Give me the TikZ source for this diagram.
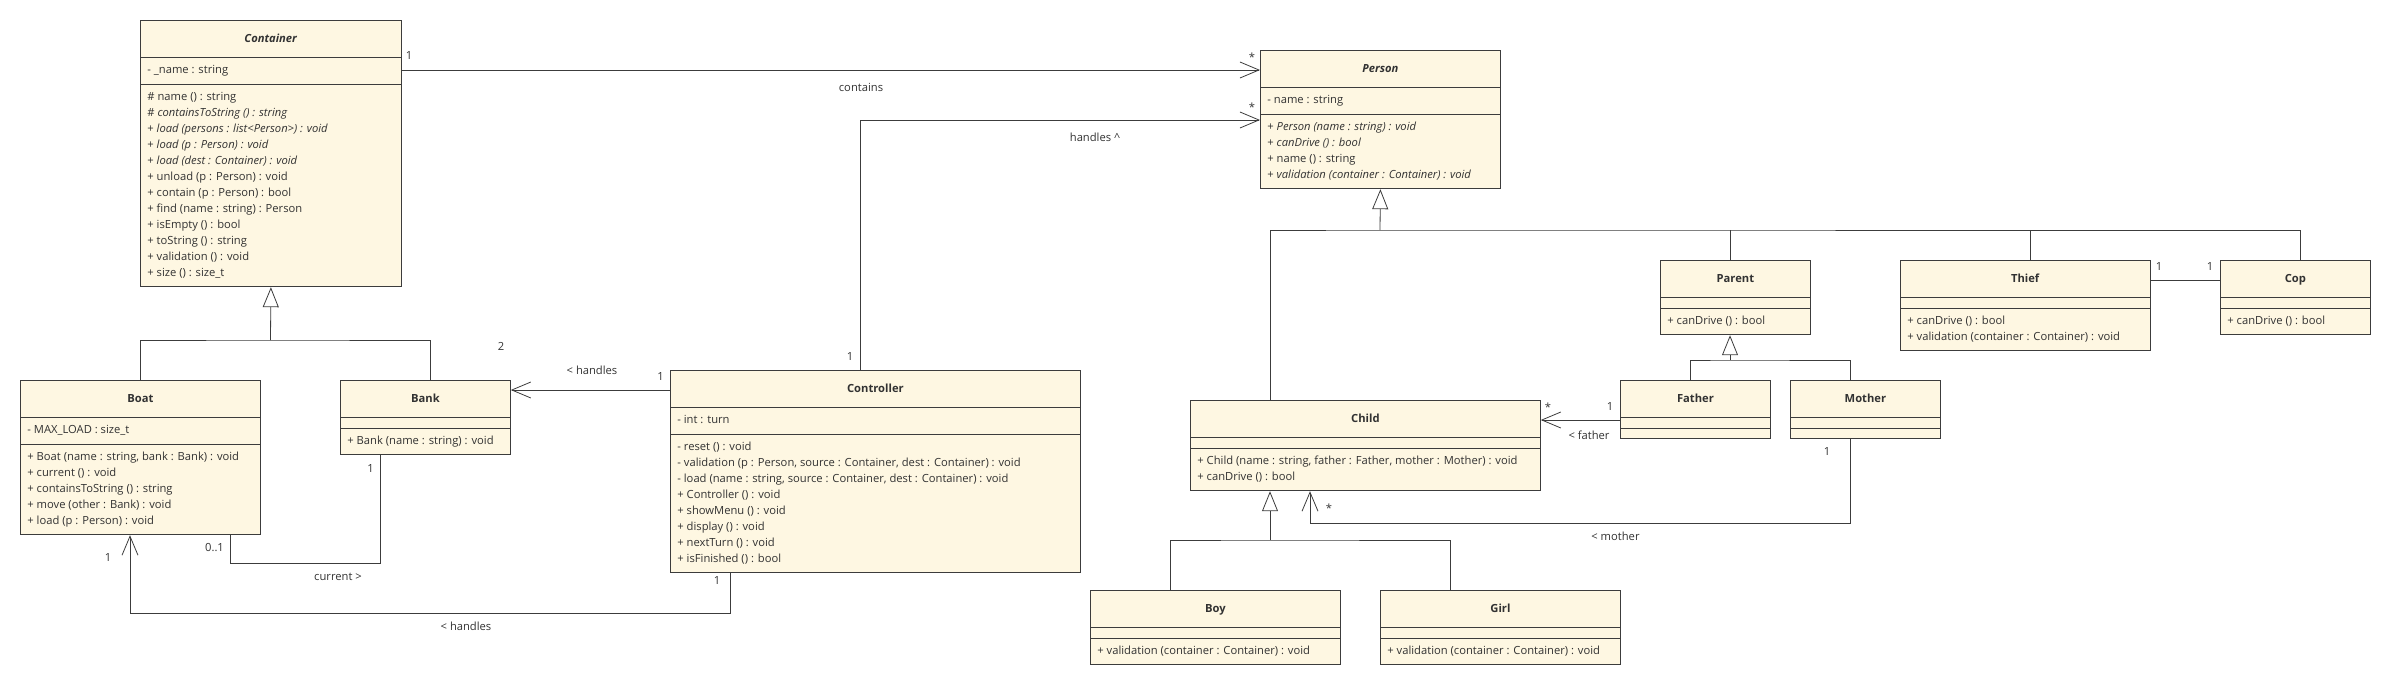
\documentclass[tikz,border=0pt]{standalone}
\usepackage{fontspec}
\setmainfont{Open Sans}
\usetikzlibrary{shapes.multipart, arrows.meta, positioning}
\definecolor{classfill}{RGB}{254, 247, 226}
\definecolor{linegray}{RGB}{60, 60, 60}
\definecolor{textgray}{RGB}{50, 50, 50}

\newcommand{\ctitle}[1]{\rule[-9pt]{0pt}{26pt}\textbf{#1}}
\newcommand{\members}[1]{\begin{tabular}{@{}l@{}}#1\end{tabular}}
\newcommand{\nomembers}{\kern0.5pt}

\tikzset{
  umlclass/.style={rectangle split, rectangle split parts=3, draw=linegray, fill=classfill,
    line width=0.8pt, inner xsep=7pt, inner ysep=5pt, anchor=north west,
    rectangle split part align={center, left, left},
    font=\fontsize{11.2}{16}\selectfont, text=textgray},
  assoc/.style={draw=linegray, line width=0.8pt},
  navig/.style={assoc, -{Straight Barb[length=19pt, width=16pt]}},
  inherit/.style={assoc, -{Triangle[open, length=20pt, width=16pt, fill=white]}},
  mult/.style={font=\fontsize{11.2}{16}\selectfont, text=textgray, inner sep=0pt},
}

\begin{document}
\begin{tikzpicture}[x=1pt, y=-1pt]
  \useasboundingbox (0,0) rectangle (2390,682);

  % Containers
  \node[umlclass, minimum width=261] (container) at (140,20) {\ctitle{\textit{Container}}%
    \nodepart{two}\members{- \_name : string}%
    \nodepart{three}\members{\# name () : string\\
    \# \textit{containsToString () : string}\\
    + \textit{load (persons : list<Person>) : void}\\
    + \textit{load (p : Person) : void}\\
    + \textit{load (dest : Container) : void}\\
    + unload (p : Person) : void\\
    + contain (p : Person) : bool\\
    + find (name : string) : Person\\
    + isEmpty () : bool\\
    + toString () : string\\
    + validation () : void\\
    + size () : size\_t}};

  \node[umlclass, minimum width=240] (boat) at (20,380) {\ctitle{Boat}%
    \nodepart{two}\members{- MAX\_LOAD : size\_t}%
    \nodepart{three}\members{+ Boat (name : string, bank : Bank) : void\\
    + current () : void\\
    + containsToString () : string\\
    + move (other : Bank) : void\\
    + load (p : Person) : void}};

  \node[umlclass, minimum width=170] (bank) at (340,380) {\ctitle{Bank}%
    \nodepart{two}\nomembers
    \nodepart{three}\members{+ Bank (name : string) : void}};

  \node[umlclass, minimum width=410] (controller) at (670,370) {\ctitle{Controller}%
    \nodepart{two}\members{- int : turn}%
    \nodepart{three}\members{- reset () : void\\
    - validation (p : Person, source : Container, dest : Container) : void\\
    - load (name : string, source : Container, dest : Container) : void\\
    + Controller () : void\\
    + showMenu () : void\\
    + display () : void\\
    + nextTurn () : void\\
    + isFinished () : bool}};

  % Persons
  \node[umlclass, minimum width=240] (person) at (1260,50) {\ctitle{\textit{Person}}%
    \nodepart{two}\members{- name : string}%
    \nodepart{three}\members{+ \textit{Person (name : string) : void}\\
    + \textit{canDrive () : bool}\\
    + name () : string\\
    + \textit{validation (container : Container) : void}}};

  \node[umlclass, minimum width=350] (child) at (1190,400) {\ctitle{Child}%
    \nodepart{two}\nomembers
    \nodepart{three}\members{+ Child (name : string, father : Father, mother : Mother) : void\\
    + canDrive () : bool}};

  \node[umlclass, minimum width=150] (parent) at (1660,260) {\ctitle{Parent}%
    \nodepart{two}\nomembers
    \nodepart{three}\members{+ canDrive () : bool}};

  \node[umlclass, minimum width=250] (thief) at (1900,260) {\ctitle{Thief}%
    \nodepart{two}\nomembers
    \nodepart{three}\members{+ canDrive () : bool\\
    + validation (container : Container) : void}};

  \node[umlclass, minimum width=150] (cop) at (2220,260) {\ctitle{Cop}%
    \nodepart{two}\nomembers
    \nodepart{three}\members{+ canDrive () : bool}};

  \node[umlclass, minimum width=150] (father) at (1620,380) {\ctitle{Father}%
    \nodepart{two}\nomembers
    \nodepart{three}\nomembers};

  \node[umlclass, minimum width=150] (mother) at (1790,380) {\ctitle{Mother}%
    \nodepart{two}\nomembers
    \nodepart{three}\nomembers};

  \node[umlclass, minimum width=250] (boy) at (1090,590) {\ctitle{Boy}%
    \nodepart{two}\nomembers
    \nodepart{three}\members{+ validation (container : Container) : void}};

  \node[umlclass, minimum width=240] (girl) at (1380,590) {\ctitle{Girl}%
    \nodepart{two}\nomembers
    \nodepart{three}\members{+ validation (container : Container) : void}};

  % Generalisations
  \coordinate (cbus) at (270.5,340);
  \draw[assoc] (boat.north) |- (cbus) -| ([xshift=90]bank.north west);
  \draw[inherit] (cbus) -- (container.south);

  \coordinate (pbus) at (1380,230);
  \draw[assoc] ([xshift=80]child.north west) |- (pbus) -| ([xshift=80]cop.north west);
  \draw[assoc] ([xshift=70]parent.north west) -- ++(0,-30);
  \draw[assoc] ([xshift=130]thief.north west) -- ++(0,-30);
  \draw[inherit] (pbus) -- (person.south);

  \coordinate (fbus) at (1730,360);
  \draw[assoc] ([xshift=70]father.north west) |- (fbus) -| ([xshift=60]mother.north west);
  \draw[inherit] (fbus) -- ([xshift=70]parent.south west);

  \coordinate (kidbus) at (1270,540);
  \draw[assoc] ([xshift=80]boy.north west) |- (kidbus) -| ([xshift=70]girl.north west);
  \draw[inherit] (kidbus) -- ([xshift=80]child.south west);

  % Associations
  \draw[navig] ([yshift=-50]container.north east) -- ([yshift=-20]person.north west);
  \node[mult] at (409,56) {1};
  \node[mult] at (1252,57) {*};
  \node[mult] at (861,87) {contains};

  \draw[navig] ([xshift=190]controller.north west) |- ([yshift=-70]person.north west);
  \node[mult] at (850,356) {1};
  \node[mult] at (1252,107) {*};
  \node[mult] at (1095,137) {handles \textasciicircum};

  \draw[navig] ([yshift=-20]controller.north west) -- ([yshift=-10]bank.north east);
  \node[mult] at (660.5,376) {1};
  \node[mult] at (501,346) {2};
  \node[mult] at (592,370) {< handles};

  \draw[navig] ([xshift=60]controller.south west) -- ++(0,40) -| ([xshift=110]boat.south west);
  \node[mult] at (717,580) {1};
  \node[mult] at (108,557) {1};
  \node[mult] at (466,626) {< handles};

  \draw[assoc] ([xshift=40]bank.south west) -- ++(0,108) -| ([xshift=210]boat.south west);
  \node[mult] at (370.5,468) {1};
  \node[mult] at (214.5,548) {0..1};
  \node[mult] at (338,577) {current >};

  \draw[navig] ([yshift=-40]father.north west) -- ([yshift=-20]child.north east);
  \node[mult] at (1610,406) {1};
  \node[mult] at (1548,407) {*};
  \node[mult] at (1589,435) {< father};

  \draw[navig] ([xshift=60]mother.south west) -- ++(0,84) -| ([xshift=120]child.south west);
  \node[mult] at (1827,451) {1};
  \node[mult] at (1329,508) {*};
  \node[mult] at (1615.5,536) {< mother};

  \draw[assoc] ([yshift=-20]thief.north east) -- ([yshift=-20]cop.north west);
  \node[mult] at (2159,266.5) {1};
  \node[mult] at (2210,266.5) {1};
\end{tikzpicture}
\end{document}
